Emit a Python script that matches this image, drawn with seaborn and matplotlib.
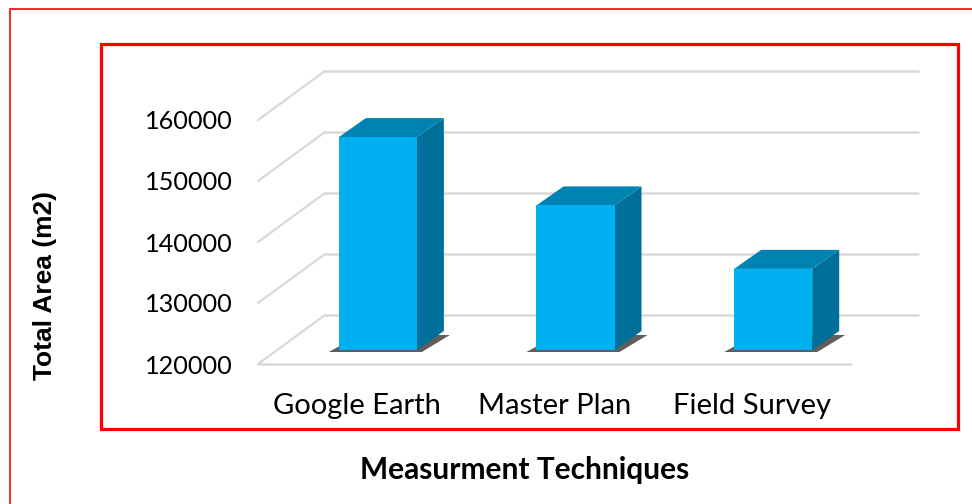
import matplotlib
matplotlib.use("Agg")
import matplotlib.pyplot as plt
from matplotlib.patches import Polygon, Rectangle
from matplotlib.lines import Line2D
from matplotlib.transforms import IdentityTransform, Affine2D
import numpy as np
import pandas as pd
import seaborn as sns

categories = ["Google Earth", "Master Plan", "Field Survey"]
total_area = [154900, 143700, 133300]
y_ticks = [120000, 130000, 140000, 150000, 160000]
y_tick_labels = ["120000", "130000", "140000", "150000", "160000"]
x_title = "Measurment Techniques"
y_title = "Total Area (m2)"

BASE, TOP = 120000, 160000
FRONT_C, TOP_C, SIDE_C = "#00B0F0", "#0082B3", "#006F99"
GRID_C = "#D9D9D9"

# pixel offsets of the pseudo-3D depth axis (x right, y up)
WALL = np.array([67.0, 49.0])       # floor front edge -> back wall
BAR_FRONT = np.array([21.0, 14.0])  # floor front edge -> bar front face
BAR_DEPTH = np.array([27.0, 19.0])  # bar front face -> bar back face

sns.set_theme(style="white")
plt.rcParams["font.family"] = ["Lato", "DejaVu Sans"]
plt.rcParams["text.color"] = "black"

W, H = 972, 504
fig = plt.figure(figsize=(W / 100, H / 100), dpi=100)
ax = fig.add_axes([258 / W, (H - 364) / H, 593 / W, 244 / H])

df = pd.DataFrame({"technique": categories, "area": total_area})
sns.barplot(data=df, x="technique", y="area", color=FRONT_C, saturation=1,
            width=0.395, ax=ax, zorder=5)

ax.set_xlim(-0.5, len(categories) - 0.5)
ax.set_ylim(BASE, TOP)
ax.set_yticks(y_ticks, y_tick_labels)
for s in ax.spines.values():
    s.set_visible(False)
ax.tick_params(axis="both", length=0, colors="black", labelcolor="black")
ax.tick_params(axis="y", pad=18, labelsize=18.2)
ax.tick_params(axis="x", pad=21, labelsize=21)
ax.set_xlabel("")
ax.set_ylabel("")
ax.patch.set_alpha(0)

disp = ax.transData.transform
ident = IdentityTransform()
xmin, xmax = ax.get_xlim()

# side wall diagonals and back wall gridlines
for v in y_ticks:
    p = disp((xmin, v))
    q = disp((xmax, v))
    ax.add_line(Line2D([p[0], p[0] + WALL[0]], [p[1], p[1] + WALL[1]],
                       transform=ident, color=GRID_C, lw=1.6, zorder=1,
                       clip_on=False))
    ax.add_line(Line2D([p[0] + WALL[0], q[0] + WALL[0]],
                       [p[1] + WALL[1], q[1] + WALL[1]],
                       transform=ident, color=GRID_C, lw=1.8, zorder=1,
                       clip_on=False))
# floor front edge
p, q = disp((xmin, BASE)), disp((xmax, BASE))
ax.add_line(Line2D([p[0], q[0]], [p[1], p[1]], transform=ident,
                   color=GRID_C, lw=1.8, zorder=1, clip_on=False))

# turn each flat bar into a box standing on the floor
for patch in list(ax.patches):
    h = patch.get_height()
    x0 = patch.get_x()
    x1 = x0 + patch.get_width()
    patch.set_y(BASE)
    patch.set_height(h - BASE)
    patch.set_transform(ax.transData + Affine2D().translate(*BAR_FRONT))
    patch.set_clip_on(False)
    patch.set_linewidth(0)

    fl = disp((x0, BASE)) + BAR_FRONT
    fr = disp((x1, BASE)) + BAR_FRONT
    tl = disp((x0, h)) + BAR_FRONT
    tr = disp((x1, h)) + BAR_FRONT
    d = BAR_DEPTH

    shadow = [fl + [-10, -2], fr + [5, -2], fr + d + [6, -4], fl + d + [-6, -4]]
    ax.add_patch(Polygon(shadow, closed=True, transform=ident, facecolor="#5E5E5E",
                         edgecolor="none", zorder=2, clip_on=False))
    side = [fr, fr + d, tr + d, tr]
    ax.add_patch(Polygon(side, closed=True, transform=ident, facecolor=SIDE_C,
                         edgecolor="none", zorder=4, clip_on=False))
    top = [tl, tr, tr + d, tl + d]
    ax.add_patch(Polygon(top, closed=True, transform=ident, facecolor=TOP_C,
                         edgecolor="none", zorder=4, clip_on=False))

# axis titles
fig.text(45 / W, 1 - 286 / H, y_title, rotation=90, ha="center", va="center",
         fontsize=19, fontweight="bold", color="black",
         family=["Liberation Sans", "DejaVu Sans"])
fig.text(525 / W, 1 - 470 / H, x_title, ha="center", va="center",
         fontsize=21.5, fontweight="bold", color="black")

# red frames around chart and plot area
fig.add_artist(Rectangle((10 / W, -0.1), 1.2, 1.1 - 9 / H, transform=fig.transFigure,
                         fill=False, edgecolor="#FF0000", lw=1.2))
fig.add_artist(Rectangle((101 / W, 1 - 429 / H), (958 - 101) / W, (429 - 44) / H,
                         transform=fig.transFigure, fill=False,
                         edgecolor="#FF0000", lw=2.3))

fig.savefig("out.png", dpi=100)
